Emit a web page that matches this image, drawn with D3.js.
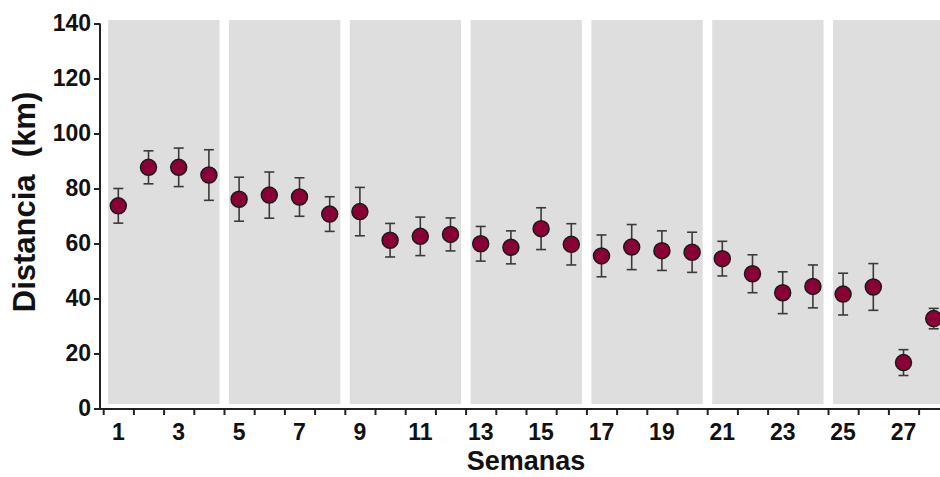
<!DOCTYPE html>
<html>
<head>
<meta charset="utf-8">
<script src="https://cdn.jsdelivr.net/npm/d3@7"></script>
<style>
  body { margin: 0; background: #fff; }
  svg { display: block; font-family: "Liberation Sans", Arial, sans-serif; font-weight: bold; }
</style>
</head>
<body>
<svg id="chart" width="940" height="477"></svg>
<script>
// weeks 1..28, mean distance (km) and error (+/-)
var weeks = d3.range(1, 29);
var means = [73.7, 87.7, 87.7, 84.9, 76.1, 77.6, 76.9, 70.7, 71.6, 61.2, 62.6, 63.3, 59.9, 58.6,
  65.4, 59.7, 55.5, 58.7, 57.4, 56.8, 54.5, 49.0, 42.1, 44.4, 41.6, 44.2, 16.7, 32.7];
var errs = [6.3, 6.0, 7.0, 9.2, 8.0, 8.4, 7.0, 6.3, 8.8, 6.1, 7.0, 6.0, 6.3, 6.0,
  7.6, 7.5, 7.6, 8.2, 7.2, 7.3, 6.3, 6.9, 7.6, 7.8, 7.6, 8.5, 4.7, 3.7];
// grey blocks of four weeks
var blocks = [[1, 4], [5, 8], [9, 12], [13, 16], [17, 20], [21, 24], [25, 28]];
var yTicks = [0, 20, 40, 60, 80, 100, 120, 140];
var xLabels = [1, 3, 5, 7, 9, 11, 13, 15, 17, 19, 21, 23, 25, 27];

var data = weeks.map(function (w, i) {
  return { week: w, mean: means[i], err: errs[i] };
});

var svg = d3.select('#chart');

var xScale = d3.scaleLinear()
  .domain([0.5, 28.5])
  .range([103.2, 948.8]);
var yScale = d3.scaleLinear()
  .domain([0, 140])
  .range([408.5, 23.5]);

// background panels
svg.append('g')
  .selectAll('rect')
  .data(blocks)
  .enter()
  .append('rect')
  .attr('x', function (d) { return xScale(d[0] - 0.5) + 5; })
  .attr('width', function (d) { return xScale(d[1] + 0.5) - xScale(d[0] - 0.5) - 9.5; })
  .attr('y', 20)
  .attr('height', yScale(1.6) - 20)
  .attr('fill', '#dedede');

// error bars
var bars = svg.append('g')
  .attr('stroke', '#3a3a3a')
  .attr('stroke-width', 1.6);
bars.selectAll('line.v')
  .data(data)
  .enter()
  .append('line')
  .attr('class', 'v')
  .attr('x1', function (d) { return xScale(d.week); })
  .attr('x2', function (d) { return xScale(d.week); })
  .attr('y1', function (d) { return yScale(d.mean + d.err); })
  .attr('y2', function (d) { return yScale(d.mean - d.err); });
['top', 'bot'].forEach(function (k) {
  bars.selectAll('line.' + k)
    .data(data)
    .enter()
    .append('line')
    .attr('class', k)
    .attr('x1', function (d) { return xScale(d.week) - 5; })
    .attr('x2', function (d) { return xScale(d.week) + 5; })
    .attr('y1', function (d) { return yScale(k === 'top' ? d.mean + d.err : d.mean - d.err); })
    .attr('y2', function (d) { return yScale(k === 'top' ? d.mean + d.err : d.mean - d.err); });
});

// points
svg.append('g')
  .selectAll('circle')
  .data(data)
  .enter()
  .append('circle')
  .attr('cx', function (d) { return xScale(d.week); })
  .attr('cy', function (d) { return yScale(d.mean); })
  .attr('r', 8)
  .attr('fill', '#8a0036')
  .attr('stroke', '#1a1a1a')
  .attr('stroke-width', 1.5);

// axes
var xAxis = d3.axisBottom(xScale)
  .tickValues(d3.range(0.5, 29, 1))
  .tickSize(6)
  .tickFormat('');
var gx = svg.append('g')
  .attr('transform', 'translate(0,' + 409 + ')')
  .call(xAxis);
gx.select('.domain').attr('d', 'M100,0H948');
gx.selectAll('line, path').attr('stroke', '#222').attr('stroke-width', 2);

svg.append('g')
  .selectAll('text')
  .data(xLabels)
  .enter()
  .append('text')
  .attr('x', function (d) { return xScale(d); })
  .attr('y', 440)
  .attr('text-anchor', 'middle')
  .style('font-size', '23px')
  .attr('fill', '#111')
  .text(function (d) { return d; });

var yAxis = d3.axisLeft(yScale)
  .tickValues(yTicks)
  .tickSize(6)
  .tickPadding(3);
var gy = svg.append('g')
  .attr('transform', 'translate(100,0)')
  .call(yAxis);
gy.select('.domain').attr('d', 'M0,' + yScale(140) + 'V409');
gy.selectAll('line, path').attr('stroke', '#222').attr('stroke-width', 2);
gy.selectAll('text')
  .attr('font-family', null)
  .attr('font-size', null)
  .style('font-size', '23px')
  .attr('fill', '#111');

// axis titles
svg.append('text')
  .attr('x', 526)
  .attr('y', 470)
  .attr('text-anchor', 'middle')
  .style('font-size', '27px')
  .attr('fill', '#111')
  .text('Semanas');
svg.append('text')
  .attr('transform', 'translate(35,' + 202 + ') rotate(-90)')
  .attr('text-anchor', 'middle')
  .style('font-size', '31px')
  .style('white-space', 'pre')
  .attr('fill', '#111')
  .text('Distancia  (km)');
</script>
</body>
</html>
